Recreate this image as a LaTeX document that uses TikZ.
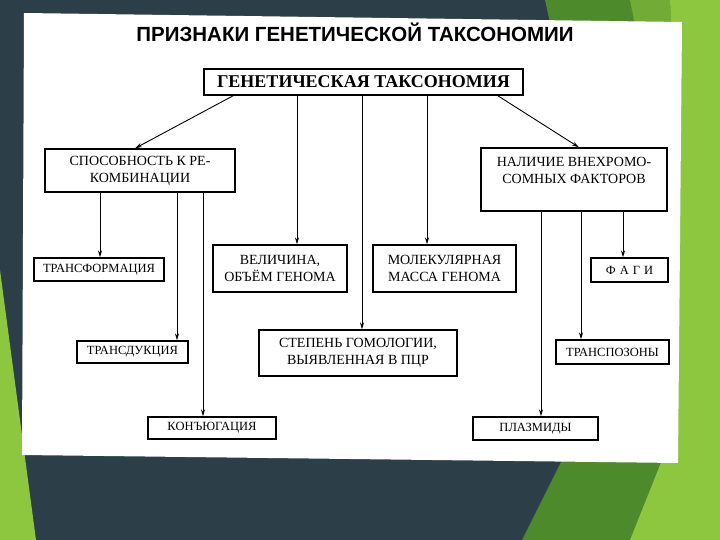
\documentclass[tikz,border=0pt]{standalone}
\usepackage{fontspec}
\setmainfont{Liberation Serif}
\newfontfamily\titlefont{Liberation Sans}
\usetikzlibrary{arrows.meta}
\definecolor{slate}{HTML}{2C3E48}
\definecolor{gdark}{HTML}{4C8A2C}
\definecolor{gmid}{HTML}{72AC37}
\definecolor{glight}{HTML}{8DC63F}

\begin{document}
\begin{tikzpicture}[x=1pt, y=-1pt,
    box/.style={draw, line width=1.3pt, inner sep=2pt, align=center, font=\fontsize{14}{17}\selectfont},
    leaf/.style={box, font=\fontsize{12.5}{15}\selectfont},
    arr/.style={-{Stealth[length=7pt,width=4pt]}, line width=0.9pt}]
  \useasboundingbox (0,0) rectangle (720,540);
  % fondo de la diapositiva
  \fill[slate] (0,0) rectangle (720,540);
  \fill[gdark] (545,0) -- (720,0) -- (720,540) -- (522,540) -- (562,460) -- (600,250) -- cycle;
  \fill[gmid] (630,0) -- (670,0) -- (680,200) -- (650,100) -- cycle;
  \fill[glight] (670,0) -- (720,0) -- (720,540) -- (630,540) -- (662,460) -- (680,200) -- cycle;
  \fill[glight] (0,270) -- (36,540) -- (0,540) -- cycle;
  \fill[white] (24,13) -- (682,22) -- (678,463) -- (22,455) -- cycle;

  \node[anchor=base, font=\titlefont\fontsize{20.5}{24}\selectfont\bfseries] (title) at (355,42) {ПРИЗНАКИ ГЕНЕТИЧЕСКОЙ ТАКСОНОМИИ};

  \node[box, minimum width=319, minimum height=26, font=\fontsize{18}{20}\selectfont\bfseries] (gentax) at (363.5,82) {ГЕНЕТИЧЕСКАЯ ТАКСОНОМИЯ};

  \node[box, minimum width=190, minimum height=43] (rekomb) at (140,170.5) {СПОСОБНОСТЬ К РЕ-\\КОМБИНАЦИИ};
  \node[box, minimum width=186, minimum height=63,
        label={[anchor=north, inner sep=0pt, yshift=-10pt, align=center, font=\fontsize{14}{17}\selectfont]north:{НАЛИЧИЕ ВНЕХРОМО-\\СОМНЫХ ФАКТОРОВ}}] (extra) at (574,179.5) {};
  \node[box, minimum width=134, minimum height=47] (velich) at (280,268.5) {ВЕЛИЧИНА,\\ОБЪЁМ ГЕНОМА};
  \node[box, minimum width=143, minimum height=47] (molek) at (444.5,268.5) {МОЛЕКУЛЯРНАЯ\\МАССА ГЕНОМА};
  \node[box, minimum width=198, minimum height=46] (stepen) at (358,353) {СТЕПЕНЬ ГОМОЛОГИИ,\\ВЫЯВЛЕННАЯ В ПЦР};

  \node[leaf, minimum width=130, minimum height=23] (transf) at (99,269.5) {ТРАНСФОРМАЦИЯ};
  \node[leaf, minimum width=111, minimum height=22] (transd) at (132.5,352) {ТРАНСДУКЦИЯ};
  \node[leaf, minimum width=128, minimum height=22] (konj) at (212,428) {КОНЪЮГАЦИЯ};
  \node[leaf, minimum width=77, minimum height=24] (fagi) at (629.5,270) {Ф\hspace{4pt}А\hspace{4pt}Г\hspace{4pt}И};
  \node[leaf, minimum width=113, minimum height=24] (transp) at (612.5,352) {ТРАНСПОЗОНЫ};
  \node[leaf, minimum width=125, minimum height=23] (plazm) at (535.5,428.5) {ПЛАЗМИДЫ};

  % flechas desde la taxonomia
  \draw[arr] ([xshift=30pt]gentax.south west) -- ([xshift=-5pt]rekomb.north);
  \draw[arr] ([xshift=-26pt]gentax.south east) -- ([xshift=5pt]extra.north);
  \draw[arr] (297,0 |- gentax.south) -- (297,0 |- velich.north);
  \draw[arr] (362,0 |- gentax.south) -- (362,0 |- stepen.north);
  \draw[arr] (427,0 |- gentax.south) -- (427,0 |- molek.north);

  \draw[arr] (100,0 |- rekomb.south) -- (100,0 |- transf.north);
  \draw[arr] (177,0 |- rekomb.south) -- (177,0 |- transd.north);
  \draw[arr] (203,0 |- rekomb.south) -- (203,0 |- konj.north);

  \draw[arr] (541,0 |- extra.south) -- (541,0 |- plazm.north);
  \draw[arr] (581,0 |- extra.south) -- (581,0 |- transp.north);
  \draw[arr] (623,0 |- extra.south) -- (623,0 |- fagi.north);
\end{tikzpicture}
\end{document}
